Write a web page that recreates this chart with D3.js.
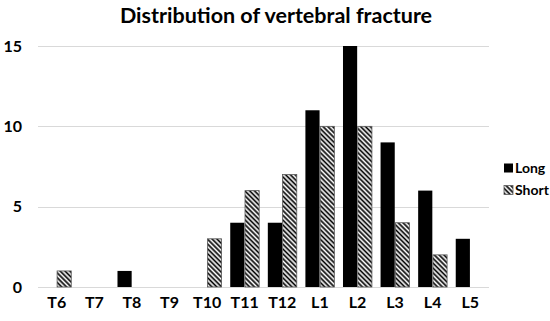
<!DOCTYPE html>
<html>
<head>
<meta charset="utf-8">
<script src="https://cdn.jsdelivr.net/npm/d3@7"></script>
<style>
  body { margin: 0; background: #fff; }
  text { font-family: Lato, "Open Sans", sans-serif; font-weight: bold; fill: #000; }
</style>
</head>
<body>
<div id="chart"></div>
<script>
// chart data
const categories = ["T6","T7","T8","T9","T10","T11","T12","L1","L2","L3","L4","L5"];
const seriesNames = ["Long","Short"];
const longValues  = [0, 0, 1, 0, 0, 4, 4, 11, 15, 9, 6, 3];
const shortValues = [1, 0, 0, 0, 3, 6, 7, 10, 10, 4, 2, 0];
const yTicks = [0, 5, 10, 15];

const width = 550, height = 321;
const margin = {left: 38, right: 61, top: 46, bottom: 34};

const svg = d3.select("#chart").append("svg")
  .attr("width", width)
  .attr("height", height);

// hatch pattern for the "Short" series
const defs = svg.append("defs");
const pat = defs.append("pattern")
  .attr("id", "hatch")
  .attr("patternUnits", "userSpaceOnUse")
  .attr("width", 3.4)
  .attr("height", 3.4)
  .attr("patternTransform", "rotate(-45)");
pat.append("rect").attr("width", 3.4).attr("height", 3.4).attr("fill", "#fff");
pat.append("line")
  .attr("x1", 1.2).attr("y1", 0).attr("x2", 1.2).attr("y2", 3.4)
  .attr("stroke", "#000").attr("stroke-width", 1.7);

const x0 = d3.scaleBand()
  .domain(categories)
  .range([margin.left, width - margin.right])
  .paddingInner(0.23)
  .paddingOuter(0.115);

const x1 = d3.scaleBand()
  .domain(seriesNames)
  .range([0, x0.bandwidth()])
  .paddingInner(0.04);

const y = d3.scaleLinear()
  .domain([0, 15])
  .range([height - margin.bottom, margin.top]);

// gridlines
svg.append("g")
  .selectAll("line")
  .data(yTicks)
  .enter().append("line")
    .attr("x1", margin.left)
    .attr("x2", width - margin.right)
    .attr("y1", function(d) { return Math.round(y(d)) + 0.5; })
    .attr("y2", function(d) { return Math.round(y(d)) + 0.5; })
    .attr("stroke", "#d9d9d9")
    .attr("stroke-width", 1);

// y labels
svg.append("g")
  .selectAll("text")
  .data(yTicks)
  .enter().append("text")
    .attr("x", 22)
    .attr("y", function(d) { return y(d); })
    .attr("dy", "0.36em")
    .attr("text-anchor", "end")
    .style("font-size", "16px")
    .text(function(d) { return d; });

// bars
const rows = categories.map(function(c, i) {
  return {cat: c, values: [
    {key: "Long", value: longValues[i]},
    {key: "Short", value: shortValues[i]}
  ]};
});

const groups = svg.append("g")
  .selectAll("g")
  .data(rows)
  .enter().append("g")
    .attr("transform", function(d) { return "translate(" + x0(d.cat) + ",0)"; });

groups.selectAll("rect")
  .data(function(d) { return d.values.filter(function(v) { return v.value > 0; }); })
  .enter().append("rect")
    .attr("x", function(d) { return x1(d.key); })
    .attr("y", function(d) { return y(d.value); })
    .attr("width", x1.bandwidth())
    .attr("height", function(d) { return y(0) - y(d.value); })
    .attr("fill", function(d) { return d.key === "Long" ? "#000" : "url(#hatch)"; })
    .attr("stroke", function(d) { return d.key === "Long" ? "none" : "#595959"; })
    .attr("stroke-width", 0.8);

// x labels
svg.append("g")
  .selectAll("text")
  .data(categories)
  .enter().append("text")
    .attr("x", function(d) { return x0(d) + x0.bandwidth() / 2; })
    .attr("y", 308)
    .attr("text-anchor", "middle")
    .style("font-size", "16px")
    .text(function(d) { return d; });

// title
svg.append("text")
  .attr("x", 276)
  .attr("y", 23)
  .attr("text-anchor", "middle")
  .style("font-size", "21.5px")
  .text("Distribution of vertebral fracture");

// legend
const legend = svg.append("g")
  .selectAll("g")
  .data(seriesNames)
  .enter().append("g")
    .attr("transform", function(d, i) { return "translate(504," + (168 + i * 22) + ")"; });

legend.append("rect")
  .attr("x", 0)
  .attr("y", -4.5)
  .attr("width", 9)
  .attr("height", 9)
  .attr("fill", function(d) { return d === "Long" ? "#000" : "url(#hatch)"; })
  .attr("stroke", function(d) { return d === "Long" ? "none" : "#595959"; })
  .attr("stroke-width", 0.8);

legend.append("text")
  .attr("x", 11)
  .attr("y", 0)
  .attr("dy", "0.36em")
  .style("font-size", "14px")
  .text(function(d) { return d; });
</script>
</body>
</html>
